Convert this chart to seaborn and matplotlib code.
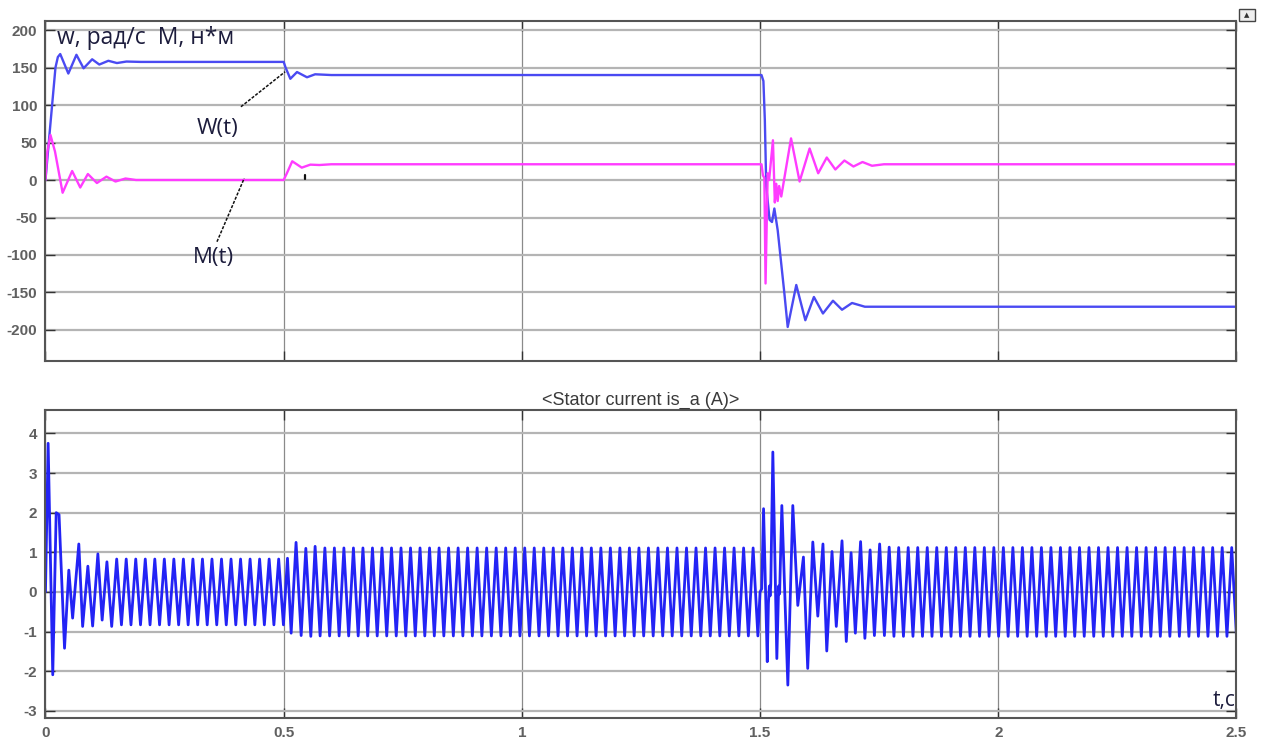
import numpy as np
import pandas as pd
import matplotlib
matplotlib.use("Agg")
import matplotlib.pyplot as plt
import seaborn as sns
from matplotlib.patches import Rectangle

# Rotor speed w(t), rad/s
w_time = [0, 0.010, 0.021, 0.026, 0.031, 0.048, 0.065, 0.080, 0.098, 0.113, 0.132, 0.150,
          0.170, 0.200, 0.500, 0.504, 0.514, 0.528, 0.549, 0.566, 0.600, 1.503, 1.507,
          1.510, 1.513, 1.520, 1.525, 1.530, 1.537, 1.551, 1.558, 1.576, 1.595, 1.613,
          1.632, 1.653, 1.672, 1.693, 1.720, 2.500]
w_value = [0, 72, 150, 164, 168, 142, 167, 149, 161, 154, 159, 156,
           158, 157.5, 157.5, 150, 135, 144, 137, 141, 140, 140, 132,
           80, -9, -53, -56, -38, -67, -151, -196, -140, -187, -156,
           -178, -161, -173, -164, -169, -169]

# Electromagnetic torque M(t), N*m
m_time = [0, 0.004, 0.0105, 0.020, 0.036, 0.056, 0.073, 0.089, 0.108, 0.128, 0.147, 0.168,
          0.190, 0.220, 0.500, 0.506, 0.518, 0.538, 0.556, 0.575, 0.600, 1.503, 1.506,
          1.509, 1.5115, 1.516, 1.519, 1.527, 1.531, 1.534, 1.537, 1.540, 1.5445, 1.565,
          1.583, 1.604, 1.622, 1.640, 1.658, 1.677, 1.696, 1.715, 1.735, 1.760, 2.500]
m_value = [0, 38, 60, 38, -17, 12, -10, 8, -4, 4.5, -2, 2,
           0, 0, 0, 8, 25, 16.5, 20.5, 20, 21, 21, 6,
           3, -138, 9, 0, 53, -30, -5, -28, -8, -22, 55.5,
           -2, 42, 9, 30, 14, 26, 18, 24, 19, 21, 21]

# Stator current is_a, A: transients peak by peak
i_rise_time = [0, 0.0056, 0.0153, 0.0225, 0.0285, 0.040, 0.049, 0.057, 0.070, 0.078,
               0.089, 0.099, 0.110, 0.119, 0.129, 0.139, 0.1495]
i_rise_value = [0, 3.75, -2.09, 2.0, 1.95, -1.42, 0.55, -0.66, 1.21, -0.87,
                0.65, -0.86, 0.96, -0.71, 0.76, -0.87, 0.83]
i_step_time = [0.508, 0.5157, 0.526, 0.5367, 0.5465, 0.557, 0.566]
i_step_value = [0.85, -1.04, 1.25, -1.10, 1.10, -1.12, 1.15]
i_rev_time = [1.500, 1.5035, 1.5073, 1.5151, 1.5175, 1.5195, 1.521, 1.5225, 1.5268, 1.5352,
              1.539, 1.541, 1.5457, 1.5583, 1.5687, 1.5792, 1.591, 1.600, 1.6107, 1.6212,
              1.632, 1.640, 1.651, 1.660, 1.672, 1.681, 1.691, 1.700, 1.711, 1.720,
              1.731, 1.740, 1.751, 1.761, 1.771]
i_rev_value = [0.0, 0.08, 2.10, -1.76, -0.30, 0.15, -0.10, 0.20, 3.53, -1.68,
               0.15, -0.05, 2.18, -2.35, 2.18, -0.34, 0.88, -1.93, 1.26, -0.61,
               1.21, -1.49, 1.02, -0.87, 1.29, -1.25, 0.99, -1.04, 1.27, -1.17,
               1.06, -1.10, 1.21, -1.10, 1.13]
# Steady 50 Hz stretches: first/last half-wave time, number of half-waves, peak amplitude
steady_first = [0.1595, 0.5765, 1.781]
steady_last = [0.4995, 1.4954, 2.500]
steady_count = [35, 93, 73]
steady_amp = [0.83, 1.11, 1.12]

x_ticks = [0, 0.5, 1, 1.5, 2, 2.5]
x_tick_labels = ["0", "0.5", "1", "1.5", "2", "2.5"]
top_y_ticks = [200, 150, 100, 50, 0, -50, -100, -150, -200]
bottom_y_ticks = [4, 3, 2, 1, 0, -1, -2, -3]


def steady(k):
    t = np.linspace(steady_first[k], steady_last[k], steady_count[k])
    sign = np.where(np.arange(steady_count[k]) % 2 == 0, -1.0, 1.0)
    return list(t), list(sign * steady_amp[k])


s1, s2, s3 = steady(0), steady(1), steady(2)
cur_t = i_rise_time + s1[0] + i_step_time + s2[0] + i_rev_time + s3[0]
cur_v = i_rise_value + s1[1] + i_step_value + s2[1] + i_rev_value + s3[1]
current = pd.DataFrame({"t": cur_t, "i": cur_v})

top = pd.concat([
    pd.DataFrame({"t": w_time, "v": w_value, "signal": "w"}),
    pd.DataFrame({"t": m_time, "v": m_value, "signal": "M"}),
], ignore_index=True)

sns.set_theme(style="white")
plt.rcParams["font.family"] = ["Liberation Sans", "DejaVu Sans"]
plt.rcParams["axes.unicode_minus"] = False

fig = plt.figure(figsize=(12.7, 7.49), dpi=100)
ax1 = fig.add_axes([0.0358, 0.5184, 0.9378, 0.4539])
ax2 = fig.add_axes([0.0358, 0.0414, 0.9378, 0.4112])

sns.lineplot(data=top, x="t", y="v", hue="signal", hue_order=["w", "M"],
             palette={"w": "#4a4af2", "M": "#ff3cff"}, estimator=None, sort=False,
             legend=False, lw=1.7, ax=ax1)
sns.lineplot(data=current, x="t", y="i", color="#2323f5", estimator=None, sort=False,
             lw=2.0, ax=ax2)

for ax, yt in ((ax1, top_y_ticks), (ax2, bottom_y_ticks)):
    ax.set_xlim(0, 2.5)
    ax.set_xticks(x_ticks)
    ax.set_yticks(yt)
    ax.set_yticklabels([str(v) for v in yt])
    ax.set_xlabel("")
    ax.set_ylabel("")
    ax.yaxis.grid(True, color="#b4b4b4", lw=1.6)
    ax.xaxis.grid(True, color="#8a8a8a", lw=0.9)
    ax.set_axisbelow(True)
    for sp in ax.spines.values():
        sp.set_color("#555555")
        sp.set_linewidth(1.5)
    ax.tick_params(axis="both", direction="in", length=7, width=1.0, color="#333333",
                   labelcolor="#606060", labelsize=11, top=True, right=True,
                   bottom=True, left=True, pad=6)
    for lab in ax.get_xticklabels() + ax.get_yticklabels():
        lab.set_fontweight("bold")

ax1.set_ylim(-241, 212.4)
ax1.set_xticklabels([])
ax2.set_ylim(-3.18, 4.59)
ax2.set_xticklabels(x_tick_labels, fontweight="bold")

txt_color = "#1c1c3c"
label_font = ["Open Sans", "DejaVu Sans"]
ax1.text(0.025, 189, "w, рад/с  M, н*м", fontsize=16.5, color=txt_color,
         family=label_font, va="center", ha="left")
ax1.text(0.3606, 69, "W(t)", fontsize=16, color=txt_color,
         family=label_font, va="center", ha="center")
ax1.text(0.352, -104, "M(t)", fontsize=16, color=txt_color,
         family=label_font, va="center", ha="center")
ax1.plot([0.4103, 0.5031], [97.7, 144.4], color="#111111", lw=1.1, ls=(0, (2, 1)))
ax1.plot([0.360, 0.4172], [-82.3, 2.3], color="#111111", lw=1.1, ls=(0, (2, 1)))
ax1.plot([0.545, 0.545], [1, 7], color="#111111", lw=1.6)

ax2.set_title("<Stator current is_a (A)>", fontsize=13, color="#3a3a3a", pad=4)
ax2.text(2.497, -2.73, "t,c", fontsize=15, color=txt_color,
         family=label_font, va="center", ha="right")

# small scope button in the corner
fig.add_artist(Rectangle((1239 / 1270, 1 - 21 / 749), 16 / 1270, 12 / 749,
                         transform=fig.transFigure, facecolor="#eeeeee",
                         edgecolor="#444444", lw=1.0))
fig.text(1247 / 1270, 1 - 15 / 749, "▲", fontsize=5, color="#333333",
         ha="center", va="center", family=["DejaVu Sans"])

fig.savefig("out.png", dpi=100, facecolor="white")
